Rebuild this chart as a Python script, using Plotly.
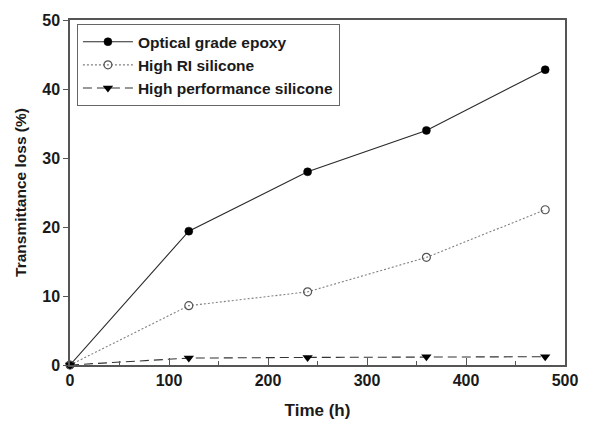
import plotly.graph_objects as go

# Exposure time (h) and transmittance loss (%) for each encapsulant
time_h = [0, 120, 240, 360, 480]
epoxy_loss = [0, 19.4, 28.0, 34.0, 42.8]
ri_silicone_loss = [0, 8.6, 10.6, 15.6, 22.5]
hp_silicone_loss = [0, 1.0, 1.1, 1.2, 1.2]

x_ticks = [0, 100, 200, 300, 400, 500]
y_ticks = [0, 10, 20, 30, 40, 50]

FONT = "Liberation Sans, Arial, sans-serif"
AXIS_COLOR = "#555555"
TEXT_COLOR = "#1a1a1a"

fig = go.Figure()

fig.add_trace(go.Scatter(
    x=time_h, y=epoxy_loss, name="Optical grade epoxy",
    mode="lines+markers",
    line=dict(color="#2a2a2a", width=1.1, dash="solid"),
    marker=dict(symbol="circle", size=8, color="#000000",
                line=dict(color="#000000", width=0.5)),
    cliponaxis=False,
))
fig.add_trace(go.Scatter(
    x=time_h, y=ri_silicone_loss, name="High RI silicone",
    mode="lines+markers",
    line=dict(color="#808080", width=1.1, dash="2px,2px"),
    marker=dict(symbol="circle-open", size=8, color="#555555",
                line=dict(color="#555555", width=1.2)),
    cliponaxis=False,
))
fig.add_trace(go.Scatter(
    x=time_h, y=hp_silicone_loss, name="High performance silicone",
    mode="lines+markers",
    line=dict(color="#333333", width=1.1, dash="9px,5px"),
    marker=dict(symbol="triangle-down", size=9, color="#000000",
                line=dict(width=0)),
    cliponaxis=False,
))

fig.update_layout(
    width=590, height=429,
    margin=dict(l=70, r=24, t=15, b=61),
    paper_bgcolor="white", plot_bgcolor="white",
    font=dict(family=FONT, size=16, color=TEXT_COLOR, weight="bold"),
    showlegend=True,
    legend=dict(
        x=0.014, y=0.988, xanchor="left", yanchor="top",
        bgcolor="white", bordercolor="#666666", borderwidth=1,
        font=dict(family=FONT, size=15.5, color=TEXT_COLOR, weight="bold"),
        tracegroupgap=0, itemwidth=50,
    ),
    xaxis=dict(
        range=[0, 500], tickvals=x_ticks, ticktext=[str(v) for v in x_ticks],
        ticks="inside", ticklen=7, tickwidth=1, tickcolor=AXIS_COLOR,
        minor=dict(dtick=50, ticks="inside", ticklen=4, tickcolor=AXIS_COLOR),
        showline=True, linecolor=AXIS_COLOR, linewidth=1.5, mirror=True,
        showgrid=False, zeroline=False,
        title=dict(text="Time (h)", standoff=16,
                   font=dict(family=FONT, size=17, weight="bold")),
        tickfont=dict(family=FONT, size=16, weight="bold"),
    ),
    yaxis=dict(
        range=[0, 50], tickvals=y_ticks, ticktext=[str(v) for v in y_ticks],
        ticks="outside", ticklen=5, tickwidth=1, tickcolor=AXIS_COLOR,
        showline=True, linecolor=AXIS_COLOR, linewidth=1.5, mirror=True,
        showgrid=False, zeroline=False,
        title=dict(text="Transmittance loss (%)", standoff=12,
                   font=dict(family=FONT, size=15.5, weight="bold")),
        tickfont=dict(family=FONT, size=16, weight="bold"),
    ),
)

fig.write_html("out.html")
